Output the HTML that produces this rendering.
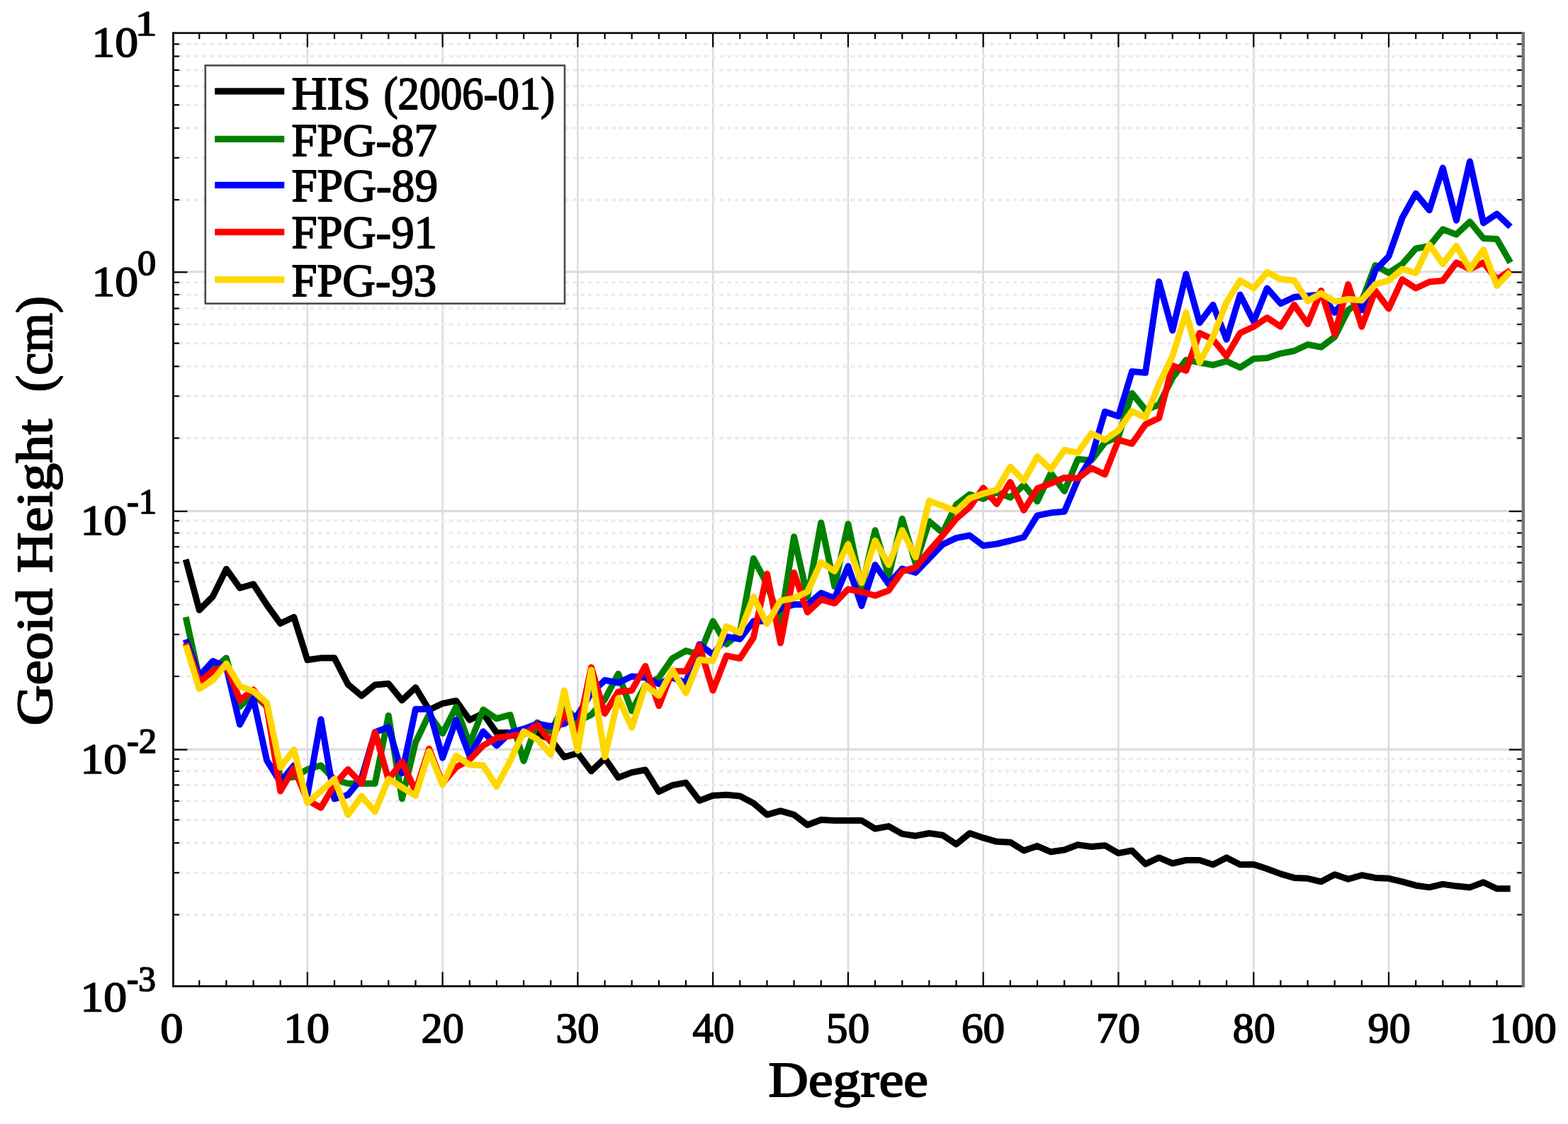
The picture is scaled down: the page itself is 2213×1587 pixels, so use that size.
<!DOCTYPE html>
<html lang="en"><head><meta charset="utf-8"><title>Geoid Height vs Degree</title>
<style>html,body{margin:0;padding:0;background:#fff}svg{display:block}text{font-family:"Liberation Serif","DejaVu Serif",serif;fill:#000}.b{font-weight:bold}</style></head><body>
<svg width="2213" height="1587" viewBox="0 0 2213 1587">
<rect width="2213" height="1587" fill="#fff"/>
<g stroke="#dadada" stroke-width="2.4" fill="none">
<line x1="433.9" y1="46.6" x2="433.9" y2="1392.5"/>
<line x1="624.6" y1="46.6" x2="624.6" y2="1392.5"/>
<line x1="815.4" y1="46.6" x2="815.4" y2="1392.5"/>
<line x1="1006.2" y1="46.6" x2="1006.2" y2="1392.5"/>
<line x1="1197.0" y1="46.6" x2="1197.0" y2="1392.5"/>
<line x1="1387.7" y1="46.6" x2="1387.7" y2="1392.5"/>
<line x1="1578.5" y1="46.6" x2="1578.5" y2="1392.5"/>
<line x1="1769.3" y1="46.6" x2="1769.3" y2="1392.5"/>
<line x1="1960.0" y1="46.6" x2="1960.0" y2="1392.5"/>
</g>
<g stroke="#dcdcdc" stroke-width="3.2" fill="none">
<line x1="244.5" y1="383.90000000000003" x2="2149.8" y2="383.90000000000003"/>
<line x1="244.5" y1="721.6" x2="2149.8" y2="721.6"/>
<line x1="244.5" y1="1058.1" x2="2149.8" y2="1058.1"/>
</g>
<g stroke="#ececec" stroke-width="3.6" stroke-dasharray="5.5 5.4" fill="none">
<line x1="252.5" y1="282.1" x2="2149.8" y2="282.1"/>
<line x1="252.5" y1="222.8" x2="2149.8" y2="222.8"/>
<line x1="252.5" y1="180.8" x2="2149.8" y2="180.8"/>
<line x1="252.5" y1="148.2" x2="2149.8" y2="148.2"/>
<line x1="252.5" y1="121.5" x2="2149.8" y2="121.5"/>
<line x1="252.5" y1="99.0" x2="2149.8" y2="99.0"/>
<line x1="252.5" y1="79.5" x2="2149.8" y2="79.5"/>
<line x1="252.5" y1="62.3" x2="2149.8" y2="62.3"/>
<line x1="252.5" y1="618.6" x2="2149.8" y2="618.6"/>
<line x1="252.5" y1="559.3" x2="2149.8" y2="559.3"/>
<line x1="252.5" y1="517.3" x2="2149.8" y2="517.3"/>
<line x1="252.5" y1="484.7" x2="2149.8" y2="484.7"/>
<line x1="252.5" y1="458.0" x2="2149.8" y2="458.0"/>
<line x1="252.5" y1="435.5" x2="2149.8" y2="435.5"/>
<line x1="252.5" y1="416.0" x2="2149.8" y2="416.0"/>
<line x1="252.5" y1="398.8" x2="2149.8" y2="398.8"/>
<line x1="252.5" y1="955.0" x2="2149.8" y2="955.0"/>
<line x1="252.5" y1="895.8" x2="2149.8" y2="895.8"/>
<line x1="252.5" y1="853.7" x2="2149.8" y2="853.7"/>
<line x1="252.5" y1="821.1" x2="2149.8" y2="821.1"/>
<line x1="252.5" y1="794.5" x2="2149.8" y2="794.5"/>
<line x1="252.5" y1="772.0" x2="2149.8" y2="772.0"/>
<line x1="252.5" y1="752.5" x2="2149.8" y2="752.5"/>
<line x1="252.5" y1="735.2" x2="2149.8" y2="735.2"/>
<line x1="252.5" y1="1291.5" x2="2149.8" y2="1291.5"/>
<line x1="252.5" y1="1232.3" x2="2149.8" y2="1232.3"/>
<line x1="252.5" y1="1190.2" x2="2149.8" y2="1190.2"/>
<line x1="252.5" y1="1157.6" x2="2149.8" y2="1157.6"/>
<line x1="252.5" y1="1131.0" x2="2149.8" y2="1131.0"/>
<line x1="252.5" y1="1108.4" x2="2149.8" y2="1108.4"/>
<line x1="252.5" y1="1088.9" x2="2149.8" y2="1088.9"/>
<line x1="252.5" y1="1071.7" x2="2149.8" y2="1071.7"/>
</g>
<g stroke="#000" stroke-width="2.2" fill="none">
<line x1="281.3" y1="1392.5" x2="281.3" y2="1384.0"/>
<line x1="281.3" y1="46.6" x2="281.3" y2="55.1"/>
<line x1="319.4" y1="1392.5" x2="319.4" y2="1384.0"/>
<line x1="319.4" y1="46.6" x2="319.4" y2="55.1"/>
<line x1="357.6" y1="1392.5" x2="357.6" y2="1384.0"/>
<line x1="357.6" y1="46.6" x2="357.6" y2="55.1"/>
<line x1="395.7" y1="1392.5" x2="395.7" y2="1384.0"/>
<line x1="395.7" y1="46.6" x2="395.7" y2="55.1"/>
<line x1="433.9" y1="1392.5" x2="433.9" y2="1372.5"/>
<line x1="433.9" y1="46.6" x2="433.9" y2="66.6"/>
<line x1="472.0" y1="1392.5" x2="472.0" y2="1384.0"/>
<line x1="472.0" y1="46.6" x2="472.0" y2="55.1"/>
<line x1="510.2" y1="1392.5" x2="510.2" y2="1384.0"/>
<line x1="510.2" y1="46.6" x2="510.2" y2="55.1"/>
<line x1="548.3" y1="1392.5" x2="548.3" y2="1384.0"/>
<line x1="548.3" y1="46.6" x2="548.3" y2="55.1"/>
<line x1="586.5" y1="1392.5" x2="586.5" y2="1384.0"/>
<line x1="586.5" y1="46.6" x2="586.5" y2="55.1"/>
<line x1="624.6" y1="1392.5" x2="624.6" y2="1372.5"/>
<line x1="624.6" y1="46.6" x2="624.6" y2="66.6"/>
<line x1="662.8" y1="1392.5" x2="662.8" y2="1384.0"/>
<line x1="662.8" y1="46.6" x2="662.8" y2="55.1"/>
<line x1="700.9" y1="1392.5" x2="700.9" y2="1384.0"/>
<line x1="700.9" y1="46.6" x2="700.9" y2="55.1"/>
<line x1="739.1" y1="1392.5" x2="739.1" y2="1384.0"/>
<line x1="739.1" y1="46.6" x2="739.1" y2="55.1"/>
<line x1="777.3" y1="1392.5" x2="777.3" y2="1384.0"/>
<line x1="777.3" y1="46.6" x2="777.3" y2="55.1"/>
<line x1="815.4" y1="1392.5" x2="815.4" y2="1372.5"/>
<line x1="815.4" y1="46.6" x2="815.4" y2="66.6"/>
<line x1="853.6" y1="1392.5" x2="853.6" y2="1384.0"/>
<line x1="853.6" y1="46.6" x2="853.6" y2="55.1"/>
<line x1="891.7" y1="1392.5" x2="891.7" y2="1384.0"/>
<line x1="891.7" y1="46.6" x2="891.7" y2="55.1"/>
<line x1="929.9" y1="1392.5" x2="929.9" y2="1384.0"/>
<line x1="929.9" y1="46.6" x2="929.9" y2="55.1"/>
<line x1="968.0" y1="1392.5" x2="968.0" y2="1384.0"/>
<line x1="968.0" y1="46.6" x2="968.0" y2="55.1"/>
<line x1="1006.2" y1="1392.5" x2="1006.2" y2="1372.5"/>
<line x1="1006.2" y1="46.6" x2="1006.2" y2="66.6"/>
<line x1="1044.3" y1="1392.5" x2="1044.3" y2="1384.0"/>
<line x1="1044.3" y1="46.6" x2="1044.3" y2="55.1"/>
<line x1="1082.5" y1="1392.5" x2="1082.5" y2="1384.0"/>
<line x1="1082.5" y1="46.6" x2="1082.5" y2="55.1"/>
<line x1="1120.6" y1="1392.5" x2="1120.6" y2="1384.0"/>
<line x1="1120.6" y1="46.6" x2="1120.6" y2="55.1"/>
<line x1="1158.8" y1="1392.5" x2="1158.8" y2="1384.0"/>
<line x1="1158.8" y1="46.6" x2="1158.8" y2="55.1"/>
<line x1="1197.0" y1="1392.5" x2="1197.0" y2="1372.5"/>
<line x1="1197.0" y1="46.6" x2="1197.0" y2="66.6"/>
<line x1="1235.1" y1="1392.5" x2="1235.1" y2="1384.0"/>
<line x1="1235.1" y1="46.6" x2="1235.1" y2="55.1"/>
<line x1="1273.3" y1="1392.5" x2="1273.3" y2="1384.0"/>
<line x1="1273.3" y1="46.6" x2="1273.3" y2="55.1"/>
<line x1="1311.4" y1="1392.5" x2="1311.4" y2="1384.0"/>
<line x1="1311.4" y1="46.6" x2="1311.4" y2="55.1"/>
<line x1="1349.6" y1="1392.5" x2="1349.6" y2="1384.0"/>
<line x1="1349.6" y1="46.6" x2="1349.6" y2="55.1"/>
<line x1="1387.7" y1="1392.5" x2="1387.7" y2="1372.5"/>
<line x1="1387.7" y1="46.6" x2="1387.7" y2="66.6"/>
<line x1="1425.9" y1="1392.5" x2="1425.9" y2="1384.0"/>
<line x1="1425.9" y1="46.6" x2="1425.9" y2="55.1"/>
<line x1="1464.0" y1="1392.5" x2="1464.0" y2="1384.0"/>
<line x1="1464.0" y1="46.6" x2="1464.0" y2="55.1"/>
<line x1="1502.2" y1="1392.5" x2="1502.2" y2="1384.0"/>
<line x1="1502.2" y1="46.6" x2="1502.2" y2="55.1"/>
<line x1="1540.3" y1="1392.5" x2="1540.3" y2="1384.0"/>
<line x1="1540.3" y1="46.6" x2="1540.3" y2="55.1"/>
<line x1="1578.5" y1="1392.5" x2="1578.5" y2="1372.5"/>
<line x1="1578.5" y1="46.6" x2="1578.5" y2="66.6"/>
<line x1="1616.6" y1="1392.5" x2="1616.6" y2="1384.0"/>
<line x1="1616.6" y1="46.6" x2="1616.6" y2="55.1"/>
<line x1="1654.8" y1="1392.5" x2="1654.8" y2="1384.0"/>
<line x1="1654.8" y1="46.6" x2="1654.8" y2="55.1"/>
<line x1="1693.0" y1="1392.5" x2="1693.0" y2="1384.0"/>
<line x1="1693.0" y1="46.6" x2="1693.0" y2="55.1"/>
<line x1="1731.1" y1="1392.5" x2="1731.1" y2="1384.0"/>
<line x1="1731.1" y1="46.6" x2="1731.1" y2="55.1"/>
<line x1="1769.3" y1="1392.5" x2="1769.3" y2="1372.5"/>
<line x1="1769.3" y1="46.6" x2="1769.3" y2="66.6"/>
<line x1="1807.4" y1="1392.5" x2="1807.4" y2="1384.0"/>
<line x1="1807.4" y1="46.6" x2="1807.4" y2="55.1"/>
<line x1="1845.6" y1="1392.5" x2="1845.6" y2="1384.0"/>
<line x1="1845.6" y1="46.6" x2="1845.6" y2="55.1"/>
<line x1="1883.7" y1="1392.5" x2="1883.7" y2="1384.0"/>
<line x1="1883.7" y1="46.6" x2="1883.7" y2="55.1"/>
<line x1="1921.9" y1="1392.5" x2="1921.9" y2="1384.0"/>
<line x1="1921.9" y1="46.6" x2="1921.9" y2="55.1"/>
<line x1="1960.0" y1="1392.5" x2="1960.0" y2="1372.5"/>
<line x1="1960.0" y1="46.6" x2="1960.0" y2="66.6"/>
<line x1="1998.2" y1="1392.5" x2="1998.2" y2="1384.0"/>
<line x1="1998.2" y1="46.6" x2="1998.2" y2="55.1"/>
<line x1="2036.3" y1="1392.5" x2="2036.3" y2="1384.0"/>
<line x1="2036.3" y1="46.6" x2="2036.3" y2="55.1"/>
<line x1="2074.5" y1="1392.5" x2="2074.5" y2="1384.0"/>
<line x1="2074.5" y1="46.6" x2="2074.5" y2="55.1"/>
<line x1="2112.6" y1="1392.5" x2="2112.6" y2="1384.0"/>
<line x1="2112.6" y1="46.6" x2="2112.6" y2="55.1"/>
<line x1="244.5" y1="384.3" x2="264.5" y2="384.3"/>
<line x1="2149.8" y1="384.3" x2="2129.8" y2="384.3"/>
<line x1="244.5" y1="722.0" x2="264.5" y2="722.0"/>
<line x1="2149.8" y1="722.0" x2="2129.8" y2="722.0"/>
<line x1="244.5" y1="1058.5" x2="264.5" y2="1058.5"/>
<line x1="2149.8" y1="1058.5" x2="2129.8" y2="1058.5"/>
<line x1="244.5" y1="282.1" x2="253.0" y2="282.1"/>
<line x1="2149.8" y1="282.1" x2="2141.3" y2="282.1"/>
<line x1="244.5" y1="222.8" x2="253.0" y2="222.8"/>
<line x1="2149.8" y1="222.8" x2="2141.3" y2="222.8"/>
<line x1="244.5" y1="180.8" x2="253.0" y2="180.8"/>
<line x1="2149.8" y1="180.8" x2="2141.3" y2="180.8"/>
<line x1="244.5" y1="148.2" x2="253.0" y2="148.2"/>
<line x1="2149.8" y1="148.2" x2="2141.3" y2="148.2"/>
<line x1="244.5" y1="121.5" x2="253.0" y2="121.5"/>
<line x1="2149.8" y1="121.5" x2="2141.3" y2="121.5"/>
<line x1="244.5" y1="99.0" x2="253.0" y2="99.0"/>
<line x1="2149.8" y1="99.0" x2="2141.3" y2="99.0"/>
<line x1="244.5" y1="79.5" x2="253.0" y2="79.5"/>
<line x1="2149.8" y1="79.5" x2="2141.3" y2="79.5"/>
<line x1="244.5" y1="62.3" x2="253.0" y2="62.3"/>
<line x1="2149.8" y1="62.3" x2="2141.3" y2="62.3"/>
<line x1="244.5" y1="618.6" x2="253.0" y2="618.6"/>
<line x1="2149.8" y1="618.6" x2="2141.3" y2="618.6"/>
<line x1="244.5" y1="559.3" x2="253.0" y2="559.3"/>
<line x1="2149.8" y1="559.3" x2="2141.3" y2="559.3"/>
<line x1="244.5" y1="517.3" x2="253.0" y2="517.3"/>
<line x1="2149.8" y1="517.3" x2="2141.3" y2="517.3"/>
<line x1="244.5" y1="484.7" x2="253.0" y2="484.7"/>
<line x1="2149.8" y1="484.7" x2="2141.3" y2="484.7"/>
<line x1="244.5" y1="458.0" x2="253.0" y2="458.0"/>
<line x1="2149.8" y1="458.0" x2="2141.3" y2="458.0"/>
<line x1="244.5" y1="435.5" x2="253.0" y2="435.5"/>
<line x1="2149.8" y1="435.5" x2="2141.3" y2="435.5"/>
<line x1="244.5" y1="416.0" x2="253.0" y2="416.0"/>
<line x1="2149.8" y1="416.0" x2="2141.3" y2="416.0"/>
<line x1="244.5" y1="398.8" x2="253.0" y2="398.8"/>
<line x1="2149.8" y1="398.8" x2="2141.3" y2="398.8"/>
<line x1="244.5" y1="955.0" x2="253.0" y2="955.0"/>
<line x1="2149.8" y1="955.0" x2="2141.3" y2="955.0"/>
<line x1="244.5" y1="895.8" x2="253.0" y2="895.8"/>
<line x1="2149.8" y1="895.8" x2="2141.3" y2="895.8"/>
<line x1="244.5" y1="853.7" x2="253.0" y2="853.7"/>
<line x1="2149.8" y1="853.7" x2="2141.3" y2="853.7"/>
<line x1="244.5" y1="821.1" x2="253.0" y2="821.1"/>
<line x1="2149.8" y1="821.1" x2="2141.3" y2="821.1"/>
<line x1="244.5" y1="794.5" x2="253.0" y2="794.5"/>
<line x1="2149.8" y1="794.5" x2="2141.3" y2="794.5"/>
<line x1="244.5" y1="772.0" x2="253.0" y2="772.0"/>
<line x1="2149.8" y1="772.0" x2="2141.3" y2="772.0"/>
<line x1="244.5" y1="752.5" x2="253.0" y2="752.5"/>
<line x1="2149.8" y1="752.5" x2="2141.3" y2="752.5"/>
<line x1="244.5" y1="735.2" x2="253.0" y2="735.2"/>
<line x1="2149.8" y1="735.2" x2="2141.3" y2="735.2"/>
<line x1="244.5" y1="1291.5" x2="253.0" y2="1291.5"/>
<line x1="2149.8" y1="1291.5" x2="2141.3" y2="1291.5"/>
<line x1="244.5" y1="1232.3" x2="253.0" y2="1232.3"/>
<line x1="2149.8" y1="1232.3" x2="2141.3" y2="1232.3"/>
<line x1="244.5" y1="1190.2" x2="253.0" y2="1190.2"/>
<line x1="2149.8" y1="1190.2" x2="2141.3" y2="1190.2"/>
<line x1="244.5" y1="1157.6" x2="253.0" y2="1157.6"/>
<line x1="2149.8" y1="1157.6" x2="2141.3" y2="1157.6"/>
<line x1="244.5" y1="1131.0" x2="253.0" y2="1131.0"/>
<line x1="2149.8" y1="1131.0" x2="2141.3" y2="1131.0"/>
<line x1="244.5" y1="1108.4" x2="253.0" y2="1108.4"/>
<line x1="2149.8" y1="1108.4" x2="2141.3" y2="1108.4"/>
<line x1="244.5" y1="1088.9" x2="253.0" y2="1088.9"/>
<line x1="2149.8" y1="1088.9" x2="2141.3" y2="1088.9"/>
<line x1="244.5" y1="1071.7" x2="253.0" y2="1071.7"/>
<line x1="2149.8" y1="1071.7" x2="2141.3" y2="1071.7"/>
</g>
<g fill="none" stroke-width="9.0" stroke-linejoin="round" stroke-linecap="butt">
<polyline stroke="#000000" points="262.2,789.8 281.3,861.3 300.3,842.3 319.4,803.4 338.5,830.2 357.6,824.7 376.6,854.0 395.7,880.3 414.8,871.2 433.9,931.8 452.9,929.1 472.0,929.1 491.1,966.2 510.2,982.4 529.3,967.1 548.3,965.3 567.4,988.8 586.5,970.7 605.6,1002.3 624.6,993.3 643.7,989.4 662.8,1016.5 681.9,1007.4 700.9,1034.6 720.0,1034.6 739.1,1031.0 758.2,1036.4 777.3,1043.6 796.3,1068.9 815.4,1063.5 834.5,1088.8 853.6,1070.7 872.6,1097.9 891.7,1090.6 910.8,1087.0 929.9,1117.8 948.9,1108.7 968.0,1105.1 987.1,1130.4 1006.2,1123.2 1025.3,1122.3 1044.3,1124.1 1063.4,1134.0 1082.5,1150.3 1101.6,1144.9 1120.6,1150.3 1139.7,1164.8 1158.8,1157.5 1177.9,1158.5 1197.0,1158.5 1216.0,1158.5 1235.1,1170.2 1254.2,1166.6 1273.3,1177.4 1292.3,1180.2 1311.4,1176.5 1330.5,1179.3 1349.6,1191.9 1368.6,1176.5 1387.7,1182.9 1406.8,1188.3 1425.9,1189.2 1445.0,1201.0 1464.0,1194.6 1483.1,1202.8 1502.2,1200.0 1521.3,1192.8 1540.3,1195.5 1559.4,1193.7 1578.5,1204.6 1597.6,1201.0 1616.6,1219.9 1635.7,1210.9 1654.8,1219.0 1673.9,1214.5 1693.0,1214.5 1712.0,1220.8 1731.1,1210.9 1750.2,1220.8 1769.3,1220.4 1788.3,1226.7 1807.4,1233.9 1826.5,1239.4 1845.6,1240.3 1864.6,1244.8 1883.7,1234.8 1902.8,1241.2 1921.9,1235.7 1941.0,1239.4 1960.0,1240.3 1979.1,1244.8 1998.2,1250.2 2017.3,1252.9 2036.3,1248.4 2055.4,1251.1 2074.5,1252.9 2093.6,1245.7 2112.6,1254.7 2131.7,1254.7"/>
<polyline stroke="#008000" points="262.2,871.2 281.3,957.9 300.3,945.2 319.4,928.9 338.5,997.7 357.6,979.6 376.6,997.7 395.7,1098.9 414.8,1097.1 433.9,1086.3 452.9,1080.8 472.0,1100.7 491.1,1106.2 510.2,1106.2 529.3,1106.2 548.3,1010.3 567.4,1127.9 586.5,1048.3 605.6,1008.5 624.6,1035.6 643.7,998.4 662.8,1050.8 681.9,1002.0 700.9,1014.7 720.0,1009.3 739.1,1074.4 758.2,1020.1 777.3,1032.8 796.3,996.6 815.4,1018.3 834.5,1009.3 853.6,987.5 872.6,951.4 891.7,1003.8 910.8,967.7 929.9,956.8 948.9,929.7 968.0,918.8 987.1,924.3 1006.2,877.1 1025.3,909.7 1044.3,893.4 1063.4,788.5 1082.5,824.7 1101.6,878.9 1120.6,757.8 1139.7,842.8 1158.8,737.9 1177.9,828.3 1197.0,739.7 1216.0,830.1 1235.1,748.7 1254.2,813.8 1273.3,732.4 1292.3,795.7 1311.4,736.1 1330.5,752.3 1349.6,712.6 1368.6,698.1 1387.7,704.2 1406.8,695.2 1425.9,702.4 1445.0,684.4 1464.0,707.9 1483.1,668.1 1502.2,693.4 1521.3,648.2 1540.3,650.0 1559.4,624.7 1578.5,616.7 1597.6,555.2 1616.6,578.7 1635.7,571.5 1654.8,533.5 1673.9,508.2 1693.0,511.8 1712.0,515.4 1731.1,510.0 1750.2,519.0 1769.3,506.4 1788.3,505.5 1807.4,499.1 1826.5,495.5 1845.6,486.5 1864.6,490.1 1883.7,475.6 1902.8,437.7 1921.9,425.0 1941.0,374.5 1960.0,385.3 1979.1,372.7 1998.2,351.0 2017.3,347.3 2036.3,323.8 2055.4,331.1 2074.5,313.0 2093.6,336.5 2112.6,337.4 2131.7,370.8"/>
<polyline stroke="#0000ff" points="262.2,902.7 281.3,954.5 300.3,933.5 319.4,941.6 338.5,1023.0 357.6,986.5 376.6,1073.6 395.7,1104.4 414.8,1080.8 433.9,1122.4 452.9,1015.7 472.0,1127.9 491.1,1122.4 510.2,1098.9 529.3,1033.8 548.3,1026.6 567.4,1091.7 586.5,1001.3 605.6,1001.3 624.6,1070.0 643.7,1016.5 662.8,1067.1 681.9,1032.8 700.9,1052.7 720.0,1034.6 739.1,1029.1 758.2,1021.9 777.3,1025.5 796.3,1021.9 815.4,1009.3 834.5,978.5 853.6,960.4 872.6,964.0 891.7,955.0 910.8,956.8 929.9,965.8 948.9,956.8 968.0,964.0 987.1,909.8 1006.2,924.1 1025.3,898.8 1044.3,902.4 1063.4,877.1 1082.5,877.1 1101.6,859.0 1120.6,853.6 1139.7,853.6 1158.8,837.3 1177.9,844.6 1197.0,799.4 1216.0,855.4 1235.1,797.5 1254.2,824.7 1273.3,803.0 1292.3,808.4 1311.4,788.5 1330.5,768.6 1349.6,759.6 1368.6,756.0 1387.7,770.5 1406.8,768.0 1425.9,763.5 1445.0,758.5 1464.0,727.8 1483.1,724.1 1502.2,722.3 1521.3,677.1 1540.3,646.4 1559.4,581.3 1578.5,587.8 1597.6,524.5 1616.6,526.3 1635.7,397.6 1654.8,466.6 1673.9,387.0 1693.0,455.7 1712.0,430.4 1731.1,479.3 1750.2,416.0 1769.3,453.9 1788.3,406.9 1807.4,428.6 1826.5,419.6 1845.6,417.8 1864.6,416.0 1883.7,441.3 1902.8,417.8 1921.9,437.7 1941.0,381.7 1960.0,361.8 1979.1,307.5 1998.2,273.2 2017.3,296.7 2036.3,237.0 2055.4,311.2 2074.5,228.0 2093.6,314.8 2112.6,302.1 2131.7,320.2"/>
<polyline stroke="#ff0000" points="262.2,908.1 281.3,963.3 300.3,947.5 319.4,939.8 338.5,988.5 357.6,974.1 376.6,997.7 395.7,1117.0 414.8,1084.5 433.9,1129.7 452.9,1140.5 472.0,1108.0 491.1,1086.3 510.2,1106.2 529.3,1033.8 548.3,1100.7 567.4,1075.4 586.5,1117.0 605.6,1057.3 624.6,1106.2 643.7,1083.4 662.8,1072.5 681.9,1052.7 700.9,1041.8 720.0,1039.1 739.1,1036.4 758.2,1023.7 777.3,1047.2 796.3,1007.4 815.4,1032.8 834.5,942.3 853.6,1007.4 872.6,976.7 891.7,974.9 910.8,940.5 929.9,996.6 948.9,947.8 968.0,947.8 987.1,911.6 1006.2,974.9 1025.3,925.9 1044.3,929.6 1063.4,900.6 1082.5,810.2 1101.6,907.9 1120.6,808.4 1139.7,864.5 1158.8,846.4 1177.9,851.8 1197.0,831.9 1216.0,835.5 1235.1,841.0 1254.2,833.7 1273.3,806.6 1292.3,801.2 1311.4,777.7 1330.5,756.0 1349.6,732.4 1368.6,716.2 1387.7,689.0 1406.8,711.5 1425.9,680.7 1445.0,720.5 1464.0,689.8 1483.1,682.5 1502.2,674.4 1521.3,675.3 1540.3,660.8 1559.4,669.9 1578.5,621.1 1597.6,626.5 1616.6,599.4 1635.7,590.3 1654.8,516.2 1673.9,523.4 1693.0,470.2 1712.0,479.3 1731.1,502.8 1750.2,470.2 1769.3,461.2 1788.3,448.5 1807.4,461.2 1826.5,430.4 1845.6,457.5 1864.6,410.5 1883.7,472.0 1902.8,401.5 1921.9,461.2 1941.0,410.5 1960.0,435.8 1979.1,394.4 1998.2,407.0 2017.3,398.0 2036.3,396.2 2055.4,370.8 2074.5,379.9 2093.6,370.8 2112.6,394.4 2131.7,381.7"/>
<polyline stroke="#ffd700" points="262.2,910.9 281.3,972.5 300.3,960.6 319.4,937.1 338.5,968.7 357.6,976.0 376.6,992.2 395.7,1083.5 414.8,1058.5 433.9,1133.3 452.9,1117.0 472.0,1099.8 491.1,1150.5 510.2,1124.2 529.3,1145.9 548.3,1099.8 567.4,1111.6 586.5,1123.3 605.6,1061.0 624.6,1108.0 643.7,1067.1 662.8,1079.8 681.9,1080.7 700.9,1110.5 720.0,1074.4 739.1,1032.8 758.2,1043.6 777.3,1065.3 796.3,974.9 815.4,1059.9 834.5,946.0 853.6,1068.9 872.6,985.7 891.7,1027.3 910.8,967.7 929.9,982.1 948.9,946.0 968.0,978.5 987.1,931.5 1006.2,933.2 1025.3,884.4 1044.3,893.4 1063.4,842.8 1082.5,880.7 1101.6,848.2 1120.6,844.6 1139.7,835.5 1158.8,793.9 1177.9,806.6 1197.0,768.6 1216.0,822.9 1235.1,763.2 1254.2,797.5 1273.3,748.7 1292.3,786.7 1311.4,707.1 1330.5,714.4 1349.6,721.6 1368.6,703.5 1387.7,697.0 1406.8,691.6 1425.9,659.0 1445.0,678.9 1464.0,644.6 1483.1,662.7 1502.2,635.5 1521.3,639.1 1540.3,612.0 1559.4,621.1 1578.5,607.7 1597.6,580.5 1616.6,589.6 1635.7,542.5 1654.8,502.8 1673.9,441.3 1693.0,511.8 1712.0,475.6 1731.1,426.8 1750.2,396.1 1769.3,406.9 1788.3,384.3 1807.4,394.3 1826.5,396.1 1845.6,425.0 1864.6,414.1 1883.7,425.9 1902.8,422.3 1921.9,424.1 1941.0,401.5 1960.0,396.1 1979.1,379.9 1998.2,385.3 2017.3,345.5 2036.3,372.7 2055.4,347.3 2074.5,379.9 2093.6,352.8 2112.6,403.4 2131.7,383.5"/>
</g>
<line x1="244.5" y1="45.300000000000004" x2="244.5" y2="1393.8" stroke="#000" stroke-width="2.8"/>
<line x1="243.1" y1="1392.5" x2="2151.4" y2="1392.5" stroke="#111" stroke-width="2.8"/>
<line x1="243.1" y1="46.6" x2="2151.4" y2="46.6" stroke="#111" stroke-width="2.8"/>
<line x1="2149.8" y1="45.300000000000004" x2="2149.8" y2="1393.8" stroke="#777" stroke-width="4.4"/>
<rect x="289.8" y="92.4" width="507.2" height="336.2" fill="#fff" stroke="#4a4a4a" stroke-width="2.6"/>
<line x1="303.2" y1="128.8" x2="401.3" y2="128.8" stroke="#000000" stroke-width="9.2"/>
<line x1="303.2" y1="196.4" x2="401.3" y2="196.4" stroke="#008000" stroke-width="9.2"/>
<line x1="303.2" y1="261.3" x2="401.3" y2="261.3" stroke="#0000ff" stroke-width="9.2"/>
<line x1="303.2" y1="327.7" x2="401.3" y2="327.7" stroke="#ff0000" stroke-width="9.2"/>
<line x1="303.2" y1="394.8" x2="401.3" y2="394.8" stroke="#ffd700" stroke-width="9.2"/>
<text y="153.7" font-size="64.5" stroke="#000" stroke-width="1.8" stroke-linejoin="round"><tspan x="411.45" textLength="111.68" lengthAdjust="spacingAndGlyphs">HIS</tspan> <tspan x="541.46" textLength="241.56" lengthAdjust="spacingAndGlyphs">(2006-01)</tspan></text>
<text x="411.48" y="219.7" font-size="64.5" textLength="205.53" lengthAdjust="spacingAndGlyphs" stroke="#000" stroke-width="1.8" stroke-linejoin="round">FPG-87</text>
<text x="411.48" y="284.4" font-size="64.5" textLength="206.55" lengthAdjust="spacingAndGlyphs" stroke="#000" stroke-width="1.8" stroke-linejoin="round">FPG-89</text>
<text x="411.47" y="350.4" font-size="64.5" textLength="205.60" lengthAdjust="spacingAndGlyphs" stroke="#000" stroke-width="1.8" stroke-linejoin="round">FPG-91</text>
<text x="411.48" y="418.2" font-size="64.5" textLength="204.56" lengthAdjust="spacingAndGlyphs" stroke="#000" stroke-width="1.8" stroke-linejoin="round">FPG-93</text>
<text x="226.37" y="1472.0" font-size="62" textLength="32.26" lengthAdjust="spacingAndGlyphs" stroke="#000" stroke-width="1.7" stroke-linejoin="round">0</text>
<text x="400.38" y="1472.0" font-size="62" textLength="64.62" lengthAdjust="spacingAndGlyphs" stroke="#000" stroke-width="1.7" stroke-linejoin="round">10</text>
<text x="594.61" y="1472.0" font-size="62" textLength="60.18" lengthAdjust="spacingAndGlyphs" stroke="#000" stroke-width="1.7" stroke-linejoin="round">20</text>
<text x="784.42" y="1472.0" font-size="62" textLength="61.23" lengthAdjust="spacingAndGlyphs" stroke="#000" stroke-width="1.7" stroke-linejoin="round">30</text>
<text x="977.38" y="1472.0" font-size="62" textLength="59.06" lengthAdjust="spacingAndGlyphs" stroke="#000" stroke-width="1.7" stroke-linejoin="round">40</text>
<text x="1166.08" y="1472.0" font-size="62" textLength="61.23" lengthAdjust="spacingAndGlyphs" stroke="#000" stroke-width="1.7" stroke-linejoin="round">50</text>
<text x="1356.98" y="1472.0" font-size="62" textLength="61.23" lengthAdjust="spacingAndGlyphs" stroke="#000" stroke-width="1.7" stroke-linejoin="round">60</text>
<text x="1546.70" y="1472.0" font-size="62" textLength="62.39" lengthAdjust="spacingAndGlyphs" stroke="#000" stroke-width="1.7" stroke-linejoin="round">70</text>
<text x="1739.74" y="1472.0" font-size="62" textLength="60.12" lengthAdjust="spacingAndGlyphs" stroke="#000" stroke-width="1.7" stroke-linejoin="round">80</text>
<text x="1930.58" y="1472.0" font-size="62" textLength="60.12" lengthAdjust="spacingAndGlyphs" stroke="#000" stroke-width="1.7" stroke-linejoin="round">90</text>
<text x="2101.95" y="1472.0" font-size="62" textLength="94.90" lengthAdjust="spacingAndGlyphs" stroke="#000" stroke-width="1.7" stroke-linejoin="round">100</text>
<text x="129.52" y="79.7" font-size="62" textLength="65.68" lengthAdjust="spacingAndGlyphs" stroke="#000" stroke-width="1.7" stroke-linejoin="round">10</text>
<text x="190.88" y="49.7" font-size="51.5" textLength="30.70" lengthAdjust="spacingAndGlyphs" stroke="#000" stroke-width="1.7" stroke-linejoin="round">1</text>
<text x="129.52" y="418.3" font-size="62" textLength="65.68" lengthAdjust="spacingAndGlyphs" stroke="#000" stroke-width="1.7" stroke-linejoin="round">10</text>
<text x="193.90" y="388.2" font-size="51.5" textLength="26.21" lengthAdjust="spacingAndGlyphs" stroke="#000" stroke-width="1.7" stroke-linejoin="round">0</text>
<text x="113.49" y="754.7" font-size="62" textLength="65.69" lengthAdjust="spacingAndGlyphs" stroke="#000" stroke-width="1.7" stroke-linejoin="round">10</text>
<text x="178.89" y="724.6" font-size="51.5" textLength="42.28" lengthAdjust="spacingAndGlyphs" stroke="#000" stroke-width="1.7" stroke-linejoin="round">-1</text>
<text x="113.49" y="1092.2" font-size="62" textLength="65.69" lengthAdjust="spacingAndGlyphs" stroke="#000" stroke-width="1.7" stroke-linejoin="round">10</text>
<text x="178.89" y="1062.5" font-size="51.5" textLength="42.28" lengthAdjust="spacingAndGlyphs" stroke="#000" stroke-width="1.7" stroke-linejoin="round">-2</text>
<text x="113.49" y="1428.0" font-size="62" textLength="65.69" lengthAdjust="spacingAndGlyphs" stroke="#000" stroke-width="1.7" stroke-linejoin="round">10</text>
<text x="178.93" y="1399.3" font-size="51.5" textLength="41.14" lengthAdjust="spacingAndGlyphs" stroke="#000" stroke-width="1.7" stroke-linejoin="round">-3</text>
<text x="1084.48" y="1547.6" font-size="70.5" textLength="225.54" lengthAdjust="spacingAndGlyphs" stroke="#000" stroke-width="2.0" stroke-linejoin="round">Degree</text>
<text transform="translate(73.2,1024.53) rotate(-90)" x="0" y="0" font-size="71.5" textLength="194.02" lengthAdjust="spacingAndGlyphs" stroke="#000" stroke-width="2.0" stroke-linejoin="round">Geoid</text>
<text transform="translate(73.2,809.01) rotate(-90)" x="0" y="0" font-size="71.5" textLength="217.50" lengthAdjust="spacingAndGlyphs" stroke="#000" stroke-width="2.0" stroke-linejoin="round">Height</text>
<text transform="translate(73.2,553.57) rotate(-90)" x="0" y="0" font-size="71.5" textLength="135.61" lengthAdjust="spacingAndGlyphs" stroke="#000" stroke-width="2.0" stroke-linejoin="round">(cm)</text>
</svg></body></html>
